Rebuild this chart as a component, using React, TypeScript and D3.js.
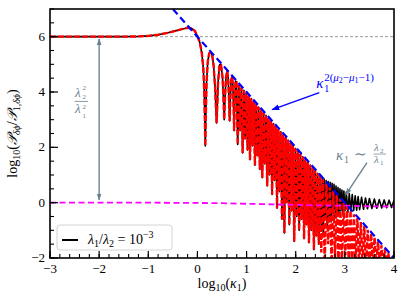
import * as d3 from 'd3';

const W = 407;
const H = 305;

const xDomain: [number, number] = [-3, 4];
const yDomain: [number, number] = [-2, 7];
const xTicks = [-3, -2, -1, 0, 1, 2, 3, 4];
const yTicks = [-2, 0, 2, 4, 6];

// log10(P/P1) vs log10(kappa1): part where the black and red curves coincide
const sharedCurve: [number, number][] = [
  [-3, 6], [-2.5, 6], [-2, 6], [-1.5, 6.0], [-1.2, 6.01], [-1, 6.03], [-0.8, 6.07], [-0.6, 6.14],
  [-0.45, 6.21], [-0.3, 6.28], [-0.2, 6.32], [-0.12, 6.3], [-0.05, 6.2], [0, 6.02], [0.05, 5.78],
  [0.09, 5.4], [0.12, 4.85], [0.14, 3.95], [0.152, 2.9], [0.16, 2.05], [0.168, 2.9], [0.185, 4.3],
  [0.21, 5.1], [0.24, 5.4], [0.27, 5.43], [0.3, 5.33], [0.33, 4.95], [0.36, 4.15], [0.38, 3.3],
  [0.39, 2.88], [0.4, 3.3], [0.42, 4.35], [0.45, 4.98], [0.48, 4.98], [0.51, 4.55], [0.53, 3.75],
  [0.545, 3.0], [0.56, 3.7], [0.58, 4.5], [0.605, 4.76], [0.625, 4.5], [0.645, 3.6], [0.656, 2.95],
  [0.667, 3.6], [0.685, 4.4], [0.705, 4.56], [0.72, 4.3], [0.738, 3.3], [0.747, 2.6], [0.756, 3.3],
  [0.775, 4.4], [0.795, 4.36],
  [0.82, 2.1], [0.845, 4.25], [0.87, 2.6], [0.895, 4.15], [0.92, 1.8], [0.945, 4.06], [0.97, 2.3],
  [0.995, 3.96], [1.02, 1.9], [1.045, 3.86], [1.07, 1.55], [1.095, 3.76], [1.12, 2.05], [1.145, 3.66],
  [1.17, 1.35], [1.195, 3.56], [1.22, 1.7], [1.245, 3.46], [1.27, 1.2], [1.295, 3.36], [1.32, 0.9],
  [1.345, 3.26], [1.37, 1.4], [1.395, 3.16], [1.42, 0.6], [1.445, 3.06], [1.47, 1.0], [1.495, 2.96],
  [1.52, 0.3], [1.545, 2.86], [1.57, 0.8], [1.595, 2.76], [1.62, -0.2], [1.645, 2.66], [1.67, 0.4],
  [1.695, 2.56], [1.72, -0.6], [1.745, 2.46], [1.77, -1.1], [1.795, 2.36], [1.82, 0.0], [1.845, 2.26],
  [1.87, -0.8], [1.895, 2.16], [1.92, -0.3], [1.945, 2.06], [1.97, -1.4], [1.995, 1.96], [2.02, -0.5],
  [2.045, 1.86], [2.07, -1.0], [2.095, 1.76], [2.12, -0.6], [2.145, 1.66], [2.17, -1.3], [2.195, 1.56],
  [2.22, -0.8], [2.245, 1.46], [2.27, -1.45], [2.295, 1.36], [2.32, -1.0], [2.345, 1.26], [2.37, -1.7],
  [2.395, 1.16], [2.42, -1.2], [2.445, 1.06], [2.47, -1.5], [2.495, 0.96],
];

// black (full) curve flattens to ~0 at large kappa
const blackTail: [number, number][] = [
  [2.52, -0.9], [2.54, 0.9], [2.56, -1.2], [2.58, 0.85], [2.6, -0.6], [2.62, 0.8], [2.64, -0.9],
  [2.66, 0.76], [2.68, -0.5], [2.7, 0.74], [2.72, -0.7], [2.74, 0.7], [2.76, -0.4], [2.78, 0.66],
  [2.8, -0.55], [2.82, 0.6], [2.84, -0.35], [2.86, 0.55], [2.88, -0.45], [2.9, 0.5], [2.92, -0.3],
  [2.94, 0.46], [2.96, -0.4], [2.98, 0.42], [3.0, -0.3], [3.03, 0.38], [3.06, -0.35], [3.09, 0.33],
  [3.12, -0.3], [3.15, 0.29], [3.18, -0.28], [3.21, 0.25], [3.24, -0.27], [3.27, 0.22], [3.3, -0.25],
  [3.34, 0.19], [3.38, -0.24], [3.42, 0.17], [3.46, -0.22], [3.5, 0.15], [3.55, -0.21], [3.6, 0.13],
  [3.65, -0.2], [3.7, 0.11], [3.75, -0.19], [3.8, 0.1], [3.85, -0.18], [3.9, 0.09], [3.95, -0.17],
  [4.0, 0.08],
];

// red (approximation) keeps following the power law
const redTail: [number, number][] = [
  [2.52, -1.8], [2.555, 0.84], [2.59, -2.3], [2.625, 0.7], [2.66, -1.5], [2.695, 0.56], [2.73, -2.3],
  [2.765, 0.42], [2.8, -2.0], [2.835, 0.28], [2.87, -2.3], [2.905, 0.14], [2.94, -2.3], [2.975, 0.0],
  [3.01, -1.9], [3.045, -0.14], [3.08, -2.3], [3.115, -0.28], [3.15, -2.3], [3.185, -0.42], [3.22, -2.1],
  [3.255, -0.56], [3.29, -2.3], [3.325, -0.7], [3.36, -2.3], [3.395, -0.84], [3.43, -2.3], [3.465, -0.98],
  [3.5, -2.3], [3.535, -1.12], [3.57, -2.2], [3.605, -1.26], [3.64, -2.3], [3.675, -1.4], [3.71, -2.3],
  [3.745, -1.54], [3.78, -2.3], [3.815, -1.68], [3.85, -2.3], [3.885, -1.82], [3.92, -2.3], [3.955, -1.96],
  [3.99, -2.3],
];

const magentaX = [-3, -2, -1, 0, 0.5, 1, 1.5, 2, 2.5, 3, 3.5, 4];
const magentaY = [0, 0, 0, -0.01, -0.02, -0.04, -0.06, -0.08, -0.1, -0.11, -0.13, -0.14];

const powerLawX = [-0.5, 4];
const powerLawY = [7, -2];

const plateauLevel = 6;

const fmt = (v: number) => (v < 0 ? '\u2212' + Math.abs(v) : String(v));

const GRAY = '#6c8290';
const SERIF = '"Liberation Serif", "Times New Roman", serif';

export default function App() {
  const x = d3.scaleLinear().domain(xDomain).range([50, 394]);
  const y = d3.scaleLinear().domain(yDomain).range([258, 9]);
  const line = d3.line<[number, number]>().x((d) => x(d[0])).y((d) => y(d[1]));

  const blackPts = [...sharedCurve, ...blackTail];
  const redPts = [...sharedCurve, ...redTail];
  const magentaPts = magentaX.map((v, i) => [v, magentaY[i]] as [number, number]);
  const powerPts = powerLawX.map((v, i) => [v, powerLawY[i]] as [number, number]);

  const xMinor = d3.range(-3, 4.001, 0.2);
  const yMinor = d3.range(-2, 7.001, 0.5);

  const [x0, x1] = x.range();
  const [yb, yt] = y.range();

  // annotation anchors (data units)
  const fx = x(-2.49), fy = y(3.66);
  const bx = x(2.416), by = y(4.145);
  const gx = x(2.82), gy = y(1.54);

  return (
    <svg width={W} height={H} style={{ position: 'absolute', left: 0, top: 0, background: '#fff', fontFamily: SERIF }}>
      <defs>
        <clipPath id="plotArea"><rect x={x0} y={yt} width={x1 - x0} height={yb - yt} /></clipPath>
        <marker id="headGray" viewBox="0 0 10 10" refX="9" refY="5" markerWidth="7" markerHeight="7"
          markerUnits="userSpaceOnUse" orient="auto-start-reverse">
          <path d="M0,1.5 L10,5 L0,8.5 z" fill={GRAY} />
        </marker>
        <marker id="headBlue" viewBox="0 0 10 10" refX="9" refY="5" markerWidth="8" markerHeight="8"
          markerUnits="userSpaceOnUse" orient="auto">
          <path d="M0,1.5 L10,5 L0,8.5 z" fill="#0000ff" />
        </marker>
      </defs>

      <g clipPath="url(#plotArea)">
        <line x1={x0} x2={x1} y1={y(plateauLevel)} y2={y(plateauLevel)} stroke="#9a9a9a" strokeWidth={1} strokeDasharray="3,2" />
        <path d={line(blackPts) ?? ''} fill="none" stroke="#000" strokeWidth={1.6} strokeLinejoin="round" />
        <path d={line(redPts) ?? ''} fill="none" stroke="#ff0000" strokeWidth={2.4} strokeDasharray="6,2" />
        <path d={line(magentaPts) ?? ''} fill="none" stroke="#ff00ff" strokeWidth={1.8} strokeDasharray="6,3.5" />
        <path d={line(powerPts) ?? ''} fill="none" stroke="#0000ff" strokeWidth={2.2} strokeDasharray="7,4" />
      </g>

      {/* vertical double arrow */}
      <line x1={x(-2)} x2={x(-2)} y1={y(0.1)} y2={y(5.92)} stroke={GRAY} strokeWidth={1.4}
        markerStart="url(#headGray)" markerEnd="url(#headGray)" />
      <g fill={GRAY} fontStyle="italic">
        <text x={fx} y={fy - 4} fontSize={13}>λ</text>
        <text x={fx + 7.5} y={fy - 11} fontSize={7} fontStyle="normal">2</text>
        <text x={fx + 7.5} y={fy - 2} fontSize={7} fontStyle="normal">2</text>
        <line x1={fx - 0.5} x2={fx + 13} y1={fy} y2={fy} stroke={GRAY} strokeWidth={0.8} />
        <text x={fx} y={fy + 12} fontSize={13}>λ</text>
        <text x={fx + 7.5} y={fy + 8} fontSize={7} fontStyle="normal">2</text>
        <text x={fx + 7.5} y={fy + 17} fontSize={7} fontStyle="normal">1</text>
      </g>

      {/* blue power-law label */}
      <line x1={x(2.48)} y1={y(3.98)} x2={x(1.52)} y2={y(3.36)} stroke="#0000ff" strokeWidth={1.4} markerEnd="url(#headBlue)" />
      <g fill="#0000ff">
        <text x={bx} y={by} fontSize={15} fontStyle="italic">κ</text>
        <text x={bx + 8} y={by + 4} fontSize={10}>1</text>
        <text x={bx + 8} y={by - 7} fontSize={11}>
          <tspan>2(</tspan>
          <tspan fontStyle="italic">μ</tspan>
          <tspan fontSize={8} dy={2}>2</tspan>
          <tspan dy={-2}>−</tspan>
          <tspan fontStyle="italic">μ</tspan>
          <tspan fontSize={8} dy={2}>1</tspan>
          <tspan dy={-2}>−1)</tspan>
        </text>
      </g>

      {/* gray kappa ~ lambda2/lambda1 label */}
      <line x1={x(3.45)} y1={y(1.45)} x2={x(3.02)} y2={y(0.29)} stroke={GRAY} strokeWidth={1.4} markerEnd="url(#headGray)" />
      <g fill={GRAY}>
        <text x={gx} y={gy} fontSize={15} fontStyle="italic">κ</text>
        <text x={gx + 8} y={gy + 3} fontSize={10}>1</text>
        <text x={gx + 18} y={gy - 1} fontSize={15}>∼</text>
        <text x={gx + 38} y={gy - 9} fontSize={11} fontStyle="italic">λ</text>
        <text x={gx + 44} y={gy - 7} fontSize={7}>2</text>
        <line x1={gx + 37.5} x2={gx + 50} y1={gy - 6} y2={gy - 6} stroke={GRAY} strokeWidth={0.7} />
        <text x={gx + 38} y={gy + 3} fontSize={11} fontStyle="italic">λ</text>
        <text x={gx + 44} y={gy + 5} fontSize={7}>1</text>
      </g>

      {/* legend */}
      <g transform={`translate(${x0 + 7},${yb - 33})`}>
        <rect x={0} y={0} width={115} height={25} rx={3} fill="#fff" fillOpacity={0.85} stroke="#d4d4d4" strokeWidth={1} />
        <line x1={5} x2={21} y1={15} y2={15} stroke="#000" strokeWidth={2} />
        <text x={31} y={19} fontSize={14}>
          <tspan fontStyle="italic">λ</tspan>
          <tspan fontSize={10} dy={3}>1</tspan>
          <tspan dy={-3}>/</tspan>
          <tspan fontStyle="italic">λ</tspan>
          <tspan fontSize={10} dy={3}>2</tspan>
          <tspan dy={-3}> = 10</tspan>
          <tspan fontSize={10} dy={-6}>−3</tspan>
        </text>
      </g>

      {/* frame */}
      <rect x={x0} y={yt} width={x1 - x0} height={yb - yt} fill="none" stroke="#000" strokeWidth={1.6} />

      {/* x ticks */}
      {xMinor.map((t) => (
        <line key={'xm' + t} x1={x(t)} x2={x(t)} y1={yb} y2={yb - 4} stroke="#000" strokeWidth={1.1} />
      ))}
      {xTicks.map((t) => (
        <g key={'x' + t}>
          <line x1={x(t)} x2={x(t)} y1={yb} y2={yb - 7} stroke="#000" strokeWidth={1.2} />
          <text x={x(t)} y={yb + 15} textAnchor="middle" fontSize={13}>{fmt(t)}</text>
        </g>
      ))}
      {/* y ticks */}
      {yMinor.map((t) => (
        <line key={'ym' + t} x1={x0} x2={x0 + 4} y1={y(t)} y2={y(t)} stroke="#000" strokeWidth={1.1} />
      ))}
      {yTicks.map((t) => (
        <g key={'y' + t}>
          <line x1={x0} x2={x0 + 8} y1={y(t)} y2={y(t)} stroke="#000" strokeWidth={1.2} />
          <text x={x0 - 5} y={y(t) + 4} textAnchor="end" fontSize={13}>{fmt(t)}</text>
        </g>
      ))}

      {/* axis titles */}
      <text x={(x0 + x1) / 2} y={288} textAnchor="middle" fontSize={14}>
        <tspan>log</tspan>
        <tspan fontSize={10} dy={3}>10</tspan>
        <tspan dy={-3}>(</tspan>
        <tspan fontStyle="italic">κ</tspan>
        <tspan fontSize={10} dy={3}>1</tspan>
        <tspan dy={-3}>)</tspan>
      </text>
      <text transform={`translate(17,${(yt + yb) / 2}) rotate(-90)`} textAnchor="middle" fontSize={14}>
        <tspan>log</tspan>
        <tspan fontSize={10} dy={3}>10</tspan>
        <tspan dy={-3}>(</tspan>
        <tspan fontStyle="italic">𝒫</tspan>
        <tspan fontSize={10} dy={3} fontStyle="italic">δϕ</tspan>
        <tspan dy={-3}>/</tspan>
        <tspan fontStyle="italic">𝒫</tspan>
        <tspan fontSize={10} dy={3}>1,</tspan>
        <tspan fontSize={10} fontStyle="italic">δϕ</tspan>
        <tspan dy={-3}>)</tspan>
      </text>
    </svg>
  );
}
